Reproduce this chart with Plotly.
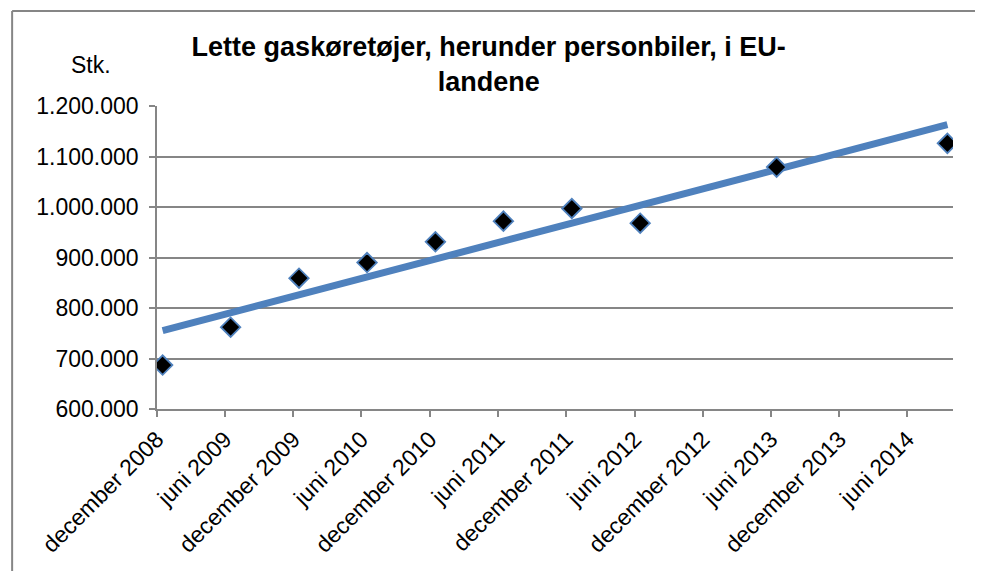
import numpy as np, pandas as pd
import plotly.graph_objects as go

months = ['2008-12', '2009-06', '2009-12', '2010-06', '2010-12', '2011-06',
          '2011-12', '2012-06', '2013-06', '2014-09']
vehicles = [687000, 762000, 859000, 890000, 931000, 972000,
            997000, 968000, 1079000, 1126000]
tick_months = ['2008-12', '2009-06', '2009-12', '2010-06', '2010-12', '2011-06',
               '2011-12', '2012-06', '2012-12', '2013-06', '2013-12', '2014-06']
tick_labels = ['december 2008', 'juni 2009', 'december 2009', 'juni 2010',
               'december 2010', 'juni 2011', 'december 2011', 'juni 2012',
               'december 2012', 'juni 2013', 'december 2013', 'juni 2014']

BLUE = '#4F81BD'
GRID = '#868686'
FONT = 'Liberation Sans, Arial, sans-serif'

# points sit in the middle of their month (excel date axis, between tick marks)
x = pd.to_datetime(months) + pd.Timedelta(days=15)
y = np.array(vehicles)

# linear trendline (least squares on day numbers)
days = (x - x[0]).days.values.astype(float)
k, m = np.polyfit(days, y, 1)
x_tr = [x[0], x[-1]]
y_tr = [m, k * days[-1] + m]

trend = go.Scatter(x=x_tr, y=y_tr, mode='lines', line=dict(color=BLUE, width=7),
                   hoverinfo='skip', showlegend=False)
pts = go.Scatter(x=x, y=y, mode='markers', showlegend=False,
                 marker=dict(symbol='diamond', size=15, color='black',
                             line=dict(color=BLUE, width=1.8)))
fig = go.Figure([trend, pts])

# page body has an 8px margin -> margins are shifted by 8px, the rest is cut off
fig.update_layout(
    width=983, height=571,
    margin=dict(l=149, r=38, t=98, b=170),
    paper_bgcolor='white', plot_bgcolor='white',
    separators=',.',
    font=dict(family=FONT, size=23, color='black'),
    title=dict(text='<b>Lette gaskøretøjer, herunder personbiler, i EU-<br>landene</b>',
               x=0.489, xref='container', xanchor='center',
               y=0.916, yref='container', yanchor='middle',
               font=dict(family=FONT, size=27, color='black')),
    showlegend=False,
)
fig.update_xaxes(
    range=['2008-12-01', '2014-10-01'],
    tickvals=pd.to_datetime(tick_months), ticktext=tick_labels,
    tickangle=-45, ticks='outside', ticklen=6, tickcolor=GRID, tickwidth=1.5,
    showline=True, linecolor=GRID, linewidth=1.5, showgrid=False, zeroline=False,
    tickfont=dict(size=23),
)
fig.update_yaxes(
    range=[600000, 1200000], dtick=100000, tickformat=',d',
    ticks='outside', ticklen=6, tickcolor=GRID, tickwidth=1.5, ticklabelstandoff=6,
    showline=True, linecolor=GRID, linewidth=1.5,
    showgrid=True, gridcolor=GRID, gridwidth=1.5, zeroline=False,
    tickfont=dict(size=23),
)
# chart-area border (only left and top visible in the crop)
fig.add_shape(type='line', xref='paper', yref='paper', x0=-0.182, x1=1.2, y0=1.3135, y1=1.3135,
              line=dict(color=GRID, width=2))
fig.add_shape(type='line', xref='paper', yref='paper', x0=-0.182, x1=-0.182, y0=-1, y1=1.3135,
              line=dict(color=GRID, width=2))
fig.add_annotation(text='Stk.', xref='paper', yref='paper', x=-0.083, y=1.135,
                   xanchor='center', yanchor='middle', showarrow=False, font=dict(size=23))

fig.write_html("out.html")
